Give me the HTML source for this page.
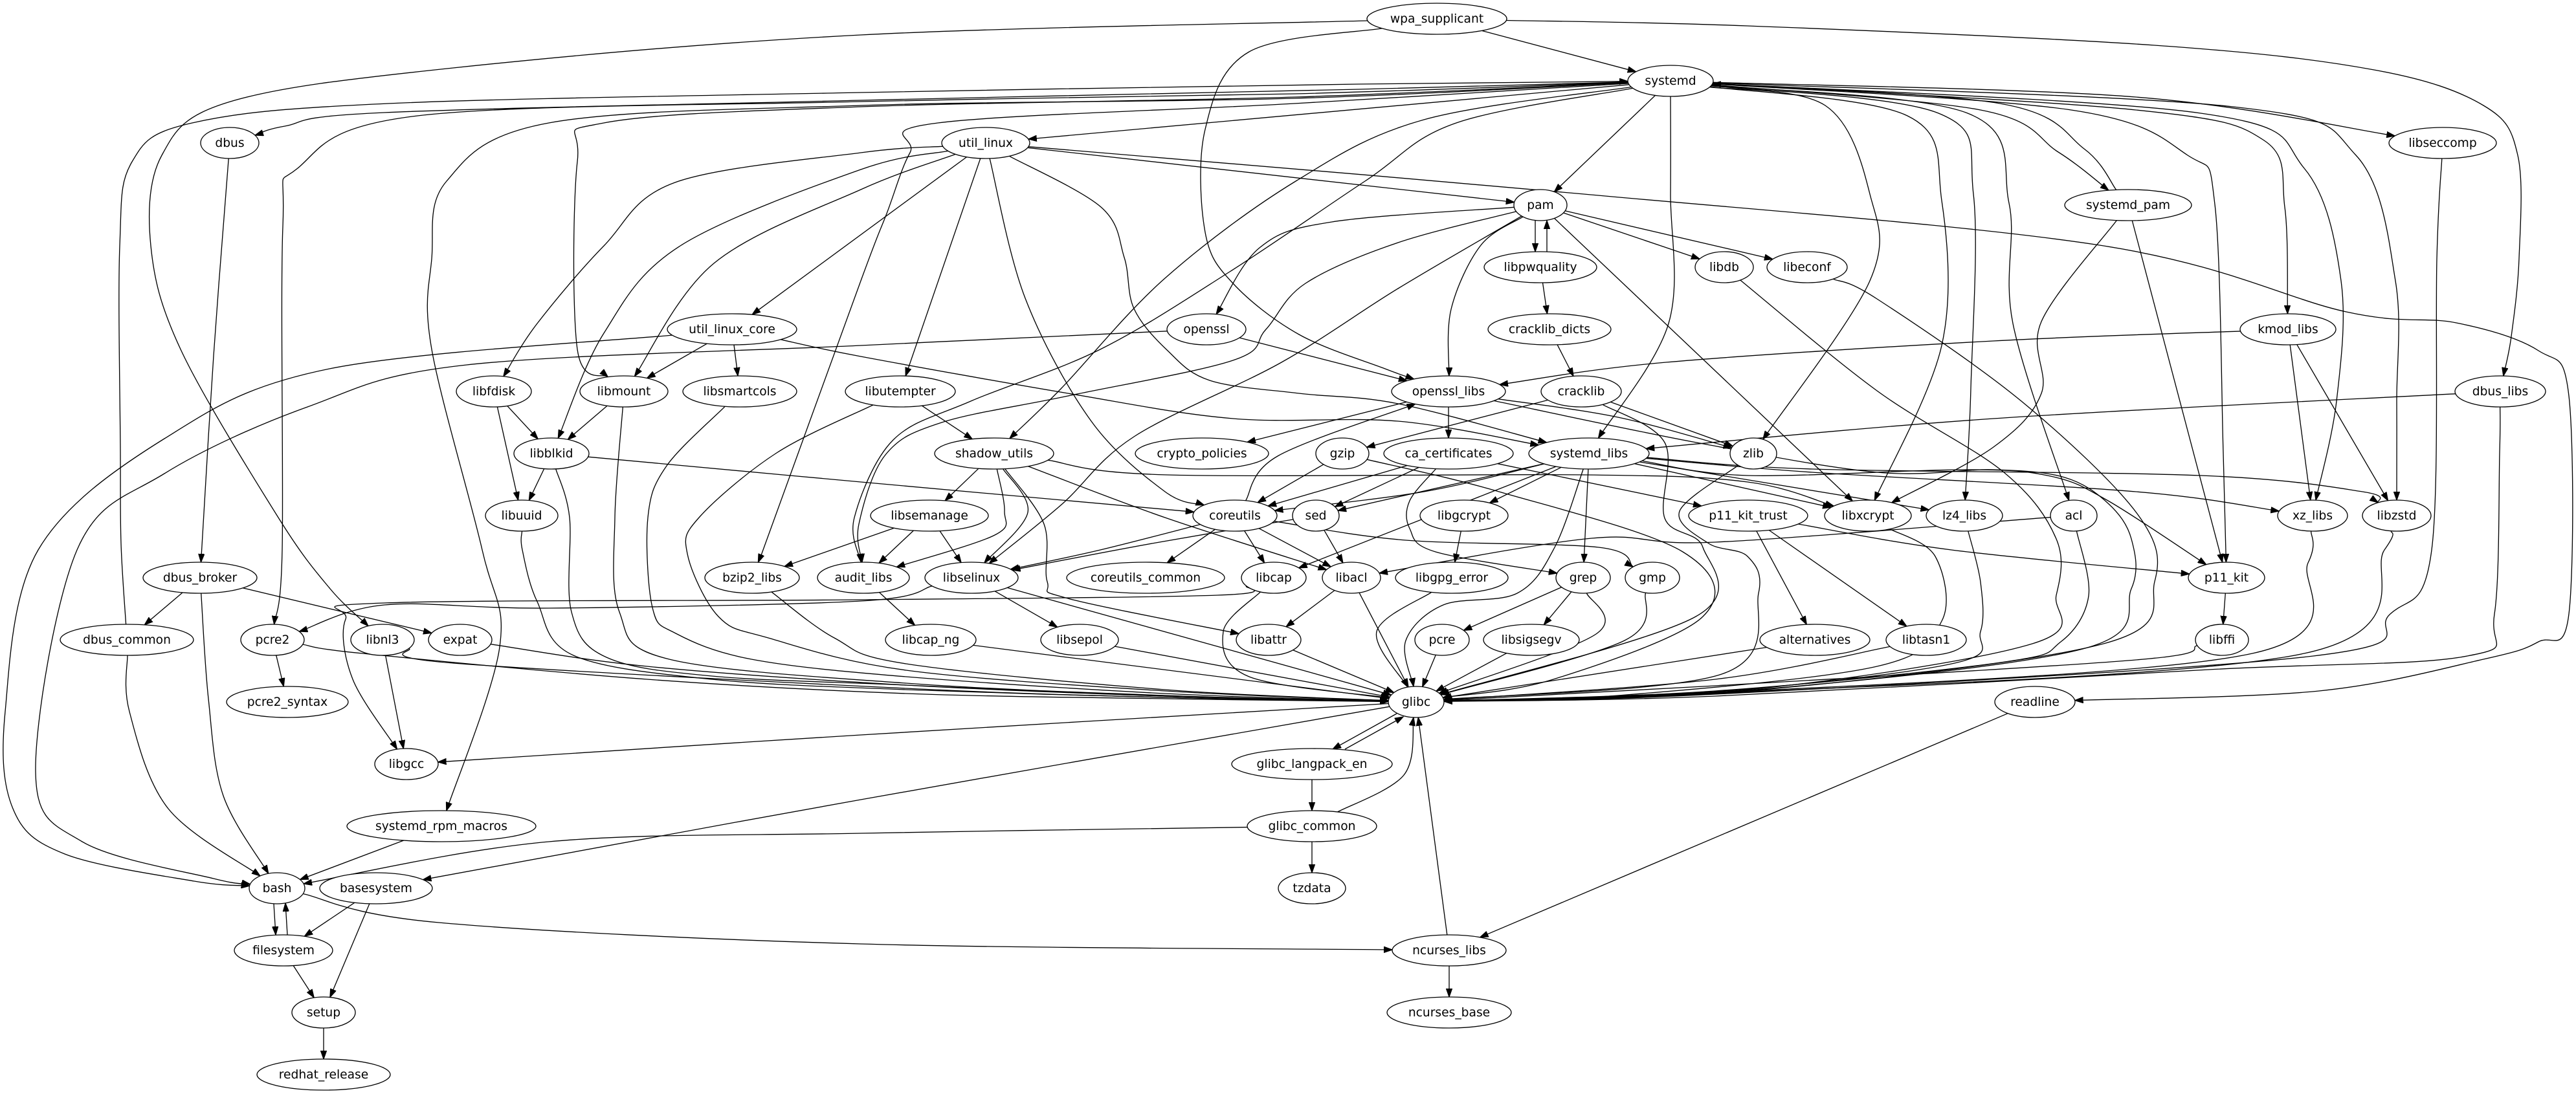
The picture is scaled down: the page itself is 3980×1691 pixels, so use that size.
<!DOCTYPE html>
<html><head><meta charset="utf-8"><style>
html,body{margin:0;padding:0;background:#fff;}
svg{display:block;}
</style></head><body>
<svg id="g" xmlns="http://www.w3.org/2000/svg" width="3980" height="1691" viewBox="0 0 3980 1691">
<defs><marker id="ah" markerWidth="14" markerHeight="10" refX="13" refY="5" orient="auto" markerUnits="userSpaceOnUse"><path d="M0,0.3 L13.3,5 L0,9.7 z" fill="#000" stroke="#000" stroke-width="1"/></marker></defs>
<rect width="3980" height="1691" fill="#fff"/>
<g id="edges" fill="none" stroke="#000" stroke-width="1.33"></g>
<g id="nodes" fill="#fff" stroke="#000" stroke-width="1.33">
<ellipse id="wpa_supplicant" cx="2220" cy="29" rx="108" ry="24"/>
<ellipse id="systemd" cx="2581" cy="125" rx="66" ry="24"/>
<ellipse id="dbus" cx="355" cy="221" rx="45" ry="24"/>
<ellipse id="util_linux" cx="1523" cy="221" rx="68" ry="24"/>
<ellipse id="libseccomp" cx="3774" cy="221" rx="83" ry="24"/>
<ellipse id="pam" cx="2380" cy="317" rx="41" ry="24"/>
<ellipse id="systemd_pam" cx="3288" cy="317" rx="98" ry="24"/>
<ellipse id="libpwquality" cx="2380" cy="413" rx="87" ry="24"/>
<ellipse id="libdb" cx="2664" cy="413" rx="45" ry="24"/>
<ellipse id="libeconf" cx="2792" cy="413" rx="62" ry="24"/>
<ellipse id="openssl" cx="1864" cy="509" rx="61" ry="24"/>
<ellipse id="util_linux_core" cx="1131" cy="509" rx="100" ry="24"/>
<ellipse id="cracklib_dicts" cx="2394" cy="509" rx="95" ry="24"/>
<ellipse id="kmod_libs" cx="3535" cy="509" rx="74" ry="24"/>
<ellipse id="libfdisk" cx="763" cy="605" rx="58" ry="24"/>
<ellipse id="libmount" cx="964" cy="605" rx="68" ry="24"/>
<ellipse id="libsmartcols" cx="1143" cy="605" rx="88" ry="24"/>
<ellipse id="libutempter" cx="1391" cy="605" rx="85" ry="24"/>
<ellipse id="openssl_libs" cx="2238" cy="605" rx="88" ry="24"/>
<ellipse id="cracklib" cx="2443" cy="605" rx="62" ry="24"/>
<ellipse id="dbus_libs" cx="3863" cy="605" rx="70" ry="24"/>
<ellipse id="libblkid" cx="852" cy="701" rx="58" ry="24"/>
<ellipse id="shadow_utils" cx="1536" cy="701" rx="92" ry="24"/>
<ellipse id="crypto_policies" cx="1857" cy="701" rx="103" ry="24"/>
<ellipse id="gzip" cx="2074" cy="701" rx="41" ry="24"/>
<ellipse id="ca_certificates" cx="2238" cy="701" rx="100" ry="24"/>
<ellipse id="systemd_libs" cx="2455" cy="701" rx="93" ry="24"/>
<ellipse id="zlib" cx="2709" cy="701" rx="36" ry="24"/>
<ellipse id="libuuid" cx="806" cy="797" rx="56" ry="24"/>
<ellipse id="libsemanage" cx="1436" cy="797" rx="91" ry="24"/>
<ellipse id="coreutils" cx="1908" cy="797" rx="65" ry="24"/>
<ellipse id="sed" cx="2033" cy="797" rx="36" ry="24"/>
<ellipse id="libgcrypt" cx="2262" cy="797" rx="68" ry="24"/>
<ellipse id="p11_kit_trust" cx="2701" cy="797" rx="92" ry="24"/>
<ellipse id="libxcrypt" cx="2886" cy="797" rx="67" ry="24"/>
<ellipse id="lz4_libs" cx="3035" cy="797" rx="59" ry="24"/>
<ellipse id="acl" cx="3204" cy="797" rx="36" ry="24"/>
<ellipse id="xz_libs" cx="3573" cy="797" rx="54" ry="24"/>
<ellipse id="libzstd" cx="3703" cy="797" rx="53" ry="24"/>
<ellipse id="dbus_broker" cx="309" cy="893" rx="88" ry="24"/>
<ellipse id="bzip2_libs" cx="1162" cy="893" rx="73" ry="24"/>
<ellipse id="audit_libs" cx="1334" cy="893" rx="71" ry="24"/>
<ellipse id="libselinux" cx="1501" cy="893" rx="72" ry="24"/>
<ellipse id="coreutils_common" cx="1770" cy="893" rx="122" ry="24"/>
<ellipse id="libcap" cx="1968" cy="893" rx="50" ry="24"/>
<ellipse id="libacl" cx="2088" cy="893" rx="45" ry="24"/>
<ellipse id="libgpg_error" cx="2243" cy="893" rx="87" ry="24"/>
<ellipse id="grep" cx="2446" cy="893" rx="42" ry="24"/>
<ellipse id="gmp" cx="2553" cy="893" rx="42" ry="24"/>
<ellipse id="p11_kit" cx="3440" cy="893" rx="59" ry="24"/>
<ellipse id="dbus_common" cx="196" cy="989" rx="103" ry="24"/>
<ellipse id="pcre2" cx="421" cy="989" rx="49" ry="24"/>
<ellipse id="libnl3" cx="591" cy="989" rx="49" ry="24"/>
<ellipse id="expat" cx="711" cy="989" rx="49" ry="24"/>
<ellipse id="libcap_ng" cx="1438" cy="989" rx="70" ry="24"/>
<ellipse id="libsepol" cx="1668" cy="989" rx="60" ry="24"/>
<ellipse id="libattr" cx="1960" cy="989" rx="50" ry="24"/>
<ellipse id="pcre" cx="2228" cy="989" rx="42" ry="24"/>
<ellipse id="libsigsegv" cx="2366" cy="989" rx="74" ry="24"/>
<ellipse id="alternatives" cx="2804" cy="989" rx="85" ry="24"/>
<ellipse id="libtasn1" cx="2976" cy="989" rx="62" ry="24"/>
<ellipse id="libffi" cx="3433" cy="989" rx="41" ry="24"/>
<ellipse id="pcre2_syntax" cx="444" cy="1085" rx="94" ry="24"/>
<ellipse id="glibc" cx="2188" cy="1085" rx="43" ry="24"/>
<ellipse id="readline" cx="3144" cy="1085" rx="62" ry="24"/>
<ellipse id="libgcc" cx="628" cy="1181" rx="49" ry="24"/>
<ellipse id="glibc_langpack_en" cx="2027" cy="1181" rx="124" ry="24"/>
<ellipse id="systemd_rpm_macros" cx="682" cy="1277" rx="146" ry="24"/>
<ellipse id="glibc_common" cx="2027" cy="1277" rx="100" ry="24"/>
<ellipse id="bash" cx="428" cy="1373" rx="43" ry="24"/>
<ellipse id="basesystem" cx="581" cy="1373" rx="87" ry="24"/>
<ellipse id="tzdata" cx="2027" cy="1373" rx="52" ry="24"/>
<ellipse id="filesystem" cx="438" cy="1469" rx="76" ry="24"/>
<ellipse id="ncurses_libs" cx="2239" cy="1469" rx="88" ry="24"/>
<ellipse id="setup" cx="500" cy="1565" rx="49" ry="24"/>
<ellipse id="ncurses_base" cx="2239" cy="1565" rx="96" ry="24"/>
<ellipse id="redhat_release" cx="500" cy="1661" rx="103" ry="24"/>
</g>
<g font-family="'DejaVu Sans','Liberation Sans',sans-serif" font-size="18.67" text-anchor="middle" fill="#000">
<text x="2220" y="35">wpa_supplicant</text>
<text x="2581" y="131">systemd</text>
<text x="355" y="227">dbus</text>
<text x="1523" y="227">util_linux</text>
<text x="3774" y="227">libseccomp</text>
<text x="2380" y="323">pam</text>
<text x="3288" y="323">systemd_pam</text>
<text x="2380" y="419">libpwquality</text>
<text x="2664" y="419">libdb</text>
<text x="2792" y="419">libeconf</text>
<text x="1864" y="515">openssl</text>
<text x="1131" y="515">util_linux_core</text>
<text x="2394" y="515">cracklib_dicts</text>
<text x="3535" y="515">kmod_libs</text>
<text x="763" y="611">libfdisk</text>
<text x="964" y="611">libmount</text>
<text x="1143" y="611">libsmartcols</text>
<text x="1391" y="611">libutempter</text>
<text x="2238" y="611">openssl_libs</text>
<text x="2443" y="611">cracklib</text>
<text x="3863" y="611">dbus_libs</text>
<text x="852" y="707">libblkid</text>
<text x="1536" y="707">shadow_utils</text>
<text x="1857" y="707">crypto_policies</text>
<text x="2074" y="707">gzip</text>
<text x="2238" y="707">ca_certificates</text>
<text x="2455" y="707">systemd_libs</text>
<text x="2709" y="707">zlib</text>
<text x="806" y="803">libuuid</text>
<text x="1436" y="803">libsemanage</text>
<text x="1908" y="803">coreutils</text>
<text x="2033" y="803">sed</text>
<text x="2262" y="803">libgcrypt</text>
<text x="2701" y="803">p11_kit_trust</text>
<text x="2886" y="803">libxcrypt</text>
<text x="3035" y="803">lz4_libs</text>
<text x="3204" y="803">acl</text>
<text x="3573" y="803">xz_libs</text>
<text x="3703" y="803">libzstd</text>
<text x="309" y="899">dbus_broker</text>
<text x="1162" y="899">bzip2_libs</text>
<text x="1334" y="899">audit_libs</text>
<text x="1501" y="899">libselinux</text>
<text x="1770" y="899">coreutils_common</text>
<text x="1968" y="899">libcap</text>
<text x="2088" y="899">libacl</text>
<text x="2243" y="899">libgpg_error</text>
<text x="2446" y="899">grep</text>
<text x="2553" y="899">gmp</text>
<text x="3440" y="899">p11_kit</text>
<text x="196" y="995">dbus_common</text>
<text x="421" y="995">pcre2</text>
<text x="591" y="995">libnl3</text>
<text x="711" y="995">expat</text>
<text x="1438" y="995">libcap_ng</text>
<text x="1668" y="995">libsepol</text>
<text x="1960" y="995">libattr</text>
<text x="2228" y="995">pcre</text>
<text x="2366" y="995">libsigsegv</text>
<text x="2804" y="995">alternatives</text>
<text x="2976" y="995">libtasn1</text>
<text x="3433" y="995">libffi</text>
<text x="444" y="1091">pcre2_syntax</text>
<text x="2188" y="1091">glibc</text>
<text x="3144" y="1091">readline</text>
<text x="628" y="1187">libgcc</text>
<text x="2027" y="1187">glibc_langpack_en</text>
<text x="682" y="1283">systemd_rpm_macros</text>
<text x="2027" y="1283">glibc_common</text>
<text x="428" y="1379">bash</text>
<text x="581" y="1379">basesystem</text>
<text x="2027" y="1379">tzdata</text>
<text x="438" y="1475">filesystem</text>
<text x="2239" y="1475">ncurses_libs</text>
<text x="500" y="1571">setup</text>
<text x="2239" y="1571">ncurses_base</text>
<text x="500" y="1667">redhat_release</text>
</g>
</svg>
<script>
(function(){
var NS="http://www.w3.org/2000/svg";
var N={};
var els=document.querySelectorAll('#nodes ellipse');
for(var i=0;i<els.length;i++){var e=els[i];N[e.id]=[+e.getAttribute('cx'),+e.getAttribute('cy'),+e.getAttribute('rx'),+e.getAttribute('ry')];}
function bnd(n,tx,ty){var c=N[n];var dx=tx-c[0],dy=ty-c[1];var t=1/Math.sqrt((dx/c[2])*(dx/c[2])+(dy/c[3])*(dy/c[3]));return [c[0]+dx*t,c[1]+dy*t];}
function f(p){return p[0].toFixed(1)+','+p[1].toFixed(1);}
var E=[
["wpa_supplicant","systemd"],
["wpa_supplicant","openssl_libs",[[1930,80],[1862,200],[1862,359],[1905,438],[2007,517],[2140,570]]],
["wpa_supplicant","libnl3",[[1330,54],[700,105],[356,157],[250,240],[233,380],[280,542],[430,800],[510,910]]],
["wpa_supplicant","dbus_libs",[[2700,40],[3329,70],[3668,108],[3837,163],[3890,240],[3892,400],[3880,520]]],
["systemd","dbus",[[2100,138],[1330,155],[594,174],[440,195]]],
["systemd","util_linux"],
["systemd","pam"],
["systemd","systemd_libs",[[2581,300],[2578,500]]],
["systemd","shadow_utils",[[2200,185],[2002,280],[1800,430],[1640,600]]],
["systemd","audit_libs",[[2250,190],[2109,280],[1900,420],[1700,540],[1500,620],[1380,680],[1320,800]]],
["systemd","libmount",[[2000,150],[1330,165],[933,190],[892,250],[892,540]]],
["systemd","pcre2",[[2000,145],[1330,157],[645,179],[460,260],[437,350],[436,850]]],
["systemd","systemd_rpm_macros",[[2000,152],[1330,163],[848,190],[690,280],[667,400],[667,540],[745,850],[772,1000]]],
["systemd","bzip2_libs",[[2000,160],[1449,190],[1406,236],[1370,330],[1330,434],[1179,850]]],
["systemd","zlib",[[2820,163],[2889,300],[2889,434]]],
["systemd","libxcrypt",[[2947,179],[3000,310],[3000,534]]],
["systemd","lz4_libs",[[2995,175],[3049,300],[3045,600]]],
["systemd","acl",[[3040,175],[3104,314],[3110,500]]],
["systemd","systemd_pam",[[3060,170],[3180,235]]],
["systemd","p11_kit",[[3200,170],[3380,240],[3422,316],[3435,700]]],
["systemd","kmod_libs",[[3300,170],[3498,217],[3530,320]]],
["systemd","xz_libs",[[3400,175],[3560,260],[3617,434],[3610,620]]],
["systemd","libzstd",[[3450,165],[3640,240],[3701,434],[3703,620]]],
["systemd","libseccomp",[[3300,150]]],
["dbus_common","systemd",[[187,840],[186,700],[185,380],[204,250],[297,190],[600,160],[1330,143],[2100,130]]],
["systemd_pam","systemd",[[3220,230],[3090,160]]],
["dbus","dbus_broker",[[330,550]]],
["util_linux","libfdisk",[[1330,236],[1043,282],[933,380],[830,500]]],
["util_linux","libblkid",[[1330,262],[1051,380],[933,515]]],
["util_linux","libmount",[[1330,293],[1103,407]]],
["util_linux","util_linux_core"],
["util_linux","libutempter"],
["util_linux","coreutils",[[1584,461],[1686,651],[1800,760]]],
["util_linux","systemd_libs",[[1701,320],[1737,398],[1752,477],[1803,541],[1869,588],[2007,608],[2160,624]]],
["util_linux","pam"],
["util_linux","readline",[[2447,300],[3244,379],[3625,482],[3795,499],[3922,542],[3969,612],[3969,949],[3922,992],[3837,1019],[3583,1068]]],
["util_linux_core","libmount"],
["util_linux_core","libsmartcols"],
["util_linux_core","bash",[[509,570],[254,678],[59,850],[8,1100],[20,1250],[100,1320],[300,1362]]],
["util_linux_core","systemd_libs",[[1330,551],[1650,608],[1905,647],[2160,651]]],
["openssl","openssl_libs"],
["openssl","bash",[[1330,534],[721,564],[475,629],[254,732],[119,850],[55,1193],[127,1301],[330,1358]]],
["pam","libpwquality",null,{s:[2372,341],e:[2372,389]}],
["libpwquality","pam",null,{s:[2390,389],e:[2390,341]}],
["pam","openssl",[[2058,343],[1946,383]]],
["pam","openssl_libs",[[2288,379],[2242,478]]],
["pam","libselinux",[[2160,446],[1980,560],[1752,675],[1640,780]]],
["pam","audit_libs",[[2160,375],[2017,438],[1956,509],[1905,557],[1650,612],[1455,653],[1368,703],[1327,810]]],
["pam","libdb"],
["pam","libeconf"],
["pam","libxcrypt"],
["libpwquality","cracklib_dicts"],
["cracklib_dicts","cracklib"],
["cracklib","zlib"],
["cracklib","gzip"],
["cracklib","glibc",[[2572,684],[2572,801],[2631,846],[2620,953]]],
["openssl_libs","crypto_policies"],
["openssl_libs","ca_certificates"],
["openssl_libs","zlib",[[2500,645]]],
["openssl_libs","glibc",[[2621,684],[2900,730],[3079,726],[3190,738],[3257,778],[3293,833],[3293,910],[3218,1003],[2700,1067]]],
["kmod_libs","openssl_libs",[[3080,527],[2574,560]]],
["kmod_libs","xz_libs"],
["kmod_libs","libzstd"],
["dbus_libs","systemd_libs",[[3080,647]]],
["dbus_libs","glibc",[[3862,700],[3854,949],[3812,1014],[3413,1035],[2650,1076]]],
["libseccomp","glibc",[[3765,400],[3757,850],[3693,949],[3574,1014],[2650,1073]]],
["systemd_pam","libxcrypt",[[3154,497],[3154,608],[3080,691]]],
["systemd_pam","p11_kit"],
["libdb","glibc",[[2900,604],[3096,730],[3177,833],[3177,920],[3140,995],[2700,1066]]],
["libeconf","glibc",[[2900,462],[3123,620],[3302,794],[3329,899],[3250,995],[2700,1068]]],
["libfdisk","libblkid"],
["libfdisk","libuuid"],
["libmount","libblkid"],
["libblkid","libuuid"],
["libblkid","coreutils",[[1330,745]]],
["libuuid","glibc",[[807,850],[830,930],[886,1013],[1100,1050],[1400,1066],[1800,1078]]],
["libblkid","glibc",[[880,800],[883,946],[937,1016],[1100,1045],[1400,1059],[1800,1076]]],
["libmount","glibc",[[950,800],[957,946],[1034,1019],[1400,1056],[1800,1075]]],
["libsmartcols","glibc",[[1030,720],[1001,800],[1008,939],[1044,979],[1161,1019],[1400,1046],[1800,1072]]],
["libutempter","glibc",[[1200,700],[1080,800],[1062,856],[1110,953],[1187,986],[1400,1036],[1800,1068]]],
["libutempter","shadow_utils"],
["shadow_utils","libsemanage"],
["shadow_utils","audit_libs",[[1552,790],[1537,827]]],
["shadow_utils","libselinux",[[1588,792]]],
["shadow_utils","libacl",[[1800,800]]],
["shadow_utils","libattr",[[1613,810],[1618,899],[1650,925]]],
["shadow_utils","libxcrypt",[[1803,734],[2450,734],[2700,745]]],
["libsemanage","bzip2_libs"],
["libsemanage","audit_libs"],
["libsemanage","libselinux"],
["coreutils","coreutils_common"],
["coreutils","libcap"],
["coreutils","libacl"],
["coreutils","libselinux",[[1700,850]]],
["coreutils","openssl_libs",[[1974,705]]],
["coreutils","gmp",[[2172,835],[2470,846]]],
["gzip","coreutils"],
["gzip","glibc",[[2316,760],[2600,853],[2631,953],[2400,1050]]],
["ca_certificates","coreutils"],
["ca_certificates","sed"],
["ca_certificates","p11_kit_trust"],
["ca_certificates","grep",[[2178,774],[2178,817],[2218,853]]],
["systemd_libs","coreutils",[[2200,760]]],
["systemd_libs","sed"],
["systemd_libs","libgcrypt"],
["systemd_libs","grep"],
["systemd_libs","glibc",[[2402,846],[2344,917],[2230,935],[2172,990]]],
["systemd_libs","libcap"],
["systemd_libs","libxcrypt"],
["systemd_libs","lz4_libs"],
["systemd_libs","xz_libs",[[2800,730],[3300,760]]],
["systemd_libs","libzstd",[[2800,725],[3400,735],[3650,760]]],
["systemd_libs","p11_kit",[[2700,735],[3034,726],[3168,736],[3257,774]]],
["sed","libacl"],
["sed","libselinux",[[1780,840]]],
["libgcrypt","libgpg_error"],
["p11_kit_trust","p11_kit",[[3015,850]]],
["p11_kit_trust","alternatives"],
["p11_kit_trust","libtasn1"],
["acl","libacl",[[2650,838],[2459,832]]],
["libxcrypt","glibc",[[2990,860],[3000,960],[2900,1030],[2500,1075]]],
["lz4_libs","glibc",[[3060,900],[3060,976],[3020,1025],[2650,1069]]],
["acl","glibc",[[3227,921],[3184,992],[3091,1024],[2650,1068]]],
["xz_libs","glibc",[[3566,870],[3480,1010],[2650,1071]]],
["libzstd","glibc",[[3684,850],[3560,1010],[2650,1072]]],
["zlib","glibc",[[2595,790],[2640,840],[2700,860],[2717,917],[2660,1042]]],
["dbus_broker","dbus_common"],
["dbus_broker","bash",[[322,1080],[345,1230]]],
["dbus_broker","expat"],
["bzip2_libs","glibc",[[1289,986],[1400,1026],[1800,1066]]],
["audit_libs","libcap_ng"],
["libselinux","libsepol"],
["libselinux","glibc"],
["libselinux","pcre2",[[1330,929],[848,940],[594,935]]],
["libcap","glibc",[[1890,976],[1930,1046]]],
["libcap","libgcc",[[1881,920],[1330,927],[594,932],[534,957],[545,1050]]],
["libacl","libattr"],
["libacl","glibc"],
["libgpg_error","glibc",[[2127,976]]],
["grep","pcre"],
["grep","libsigsegv"],
["grep","glibc",[[2466,980]]],
["gmp","glibc",[[2510,990]]],
["p11_kit","libffi"],
["dbus_common","bash",[[200,1100],[260,1250]]],
["pcre2","pcre2_syntax"],
["pcre2","glibc",[[560,1010],[1000,1050],[1400,1072],[1800,1080]]],
["libnl3","libgcc"],
["libnl3","glibc",[[700,1025],[1400,1064],[1800,1078]]],
["expat","glibc",[[1000,1030],[1400,1059],[1800,1076]]],
["libcap_ng","glibc"],
["libsepol","glibc"],
["libattr","glibc"],
["pcre","glibc"],
["libsigsegv","glibc"],
["alternatives","glibc"],
["libtasn1","glibc",[[2650,1050]]],
["libffi","glibc",[[3300,1020],[2650,1060]]],
["glibc","libgcc",[[1330,1136]]],
["glibc","basesystem",[[1330,1236]]],
["glibc","glibc_langpack_en",null,{s:[2158,1103],e:[2059,1158]}],
["glibc_langpack_en","glibc",null,{s:[2078,1158],e:[2168,1108]}],
["glibc_langpack_en","glibc_common"],
["glibc_common","glibc",[[2169,1198]]],
["glibc_common","tzdata"],
["glibc_common","bash",[[1330,1288],[848,1301]]],
["ncurses_libs","glibc"],
["ncurses_libs","ncurses_base"],
["readline","ncurses_libs"],
["bash","filesystem",null,{s:[423,1397],e:[426,1445]}],
["filesystem","bash",null,{s:[444,1445],e:[441,1396]}],
["bash","ncurses_libs",[[678,1426],[1330,1459]]],
["basesystem","filesystem"],
["basesystem","setup"],
["filesystem","setup"],
["setup","redhat_release"],
["systemd_rpm_macros","bash"]
];
var g=document.getElementById('edges');
for(var k=0;k<E.length;k++){
 var ed=E[k],a=ed[0],b=ed[1],wp=ed[2]||[],o=ed[3]||{};
 if(!N[a]||!N[b])continue;
 var first=wp.length?wp[0]:[N[b][0],N[b][1]];
 var last=wp.length?wp[wp.length-1]:[N[a][0],N[a][1]];
 var s=o.s||bnd(a,first[0],first[1]);
 var e=o.e||bnd(b,last[0],last[1]);
 var pts=[s].concat(wp,[e]);
 var d='M'+f(s);
 if(pts.length==2){d+=' L'+f(e);}
 else{
  for(var i=0;i<pts.length-1;i++){
   var p0=pts[i-1]||pts[i],p1=pts[i],p2=pts[i+1],p3=pts[i+2]||pts[i+1];
   var c1=[p1[0]+(p2[0]-p0[0])/6,p1[1]+(p2[1]-p0[1])/6];
   var c2=[p2[0]-(p3[0]-p1[0])/6,p2[1]-(p3[1]-p1[1])/6];
   d+=' C'+f(c1)+' '+f(c2)+' '+f(p2);
  }
 }
 var p=document.createElementNS(NS,'path');
 p.setAttribute('d',d);
 p.setAttribute('marker-end','url(#ah)');
 g.appendChild(p);
}
})();
</script>
</body></html>
